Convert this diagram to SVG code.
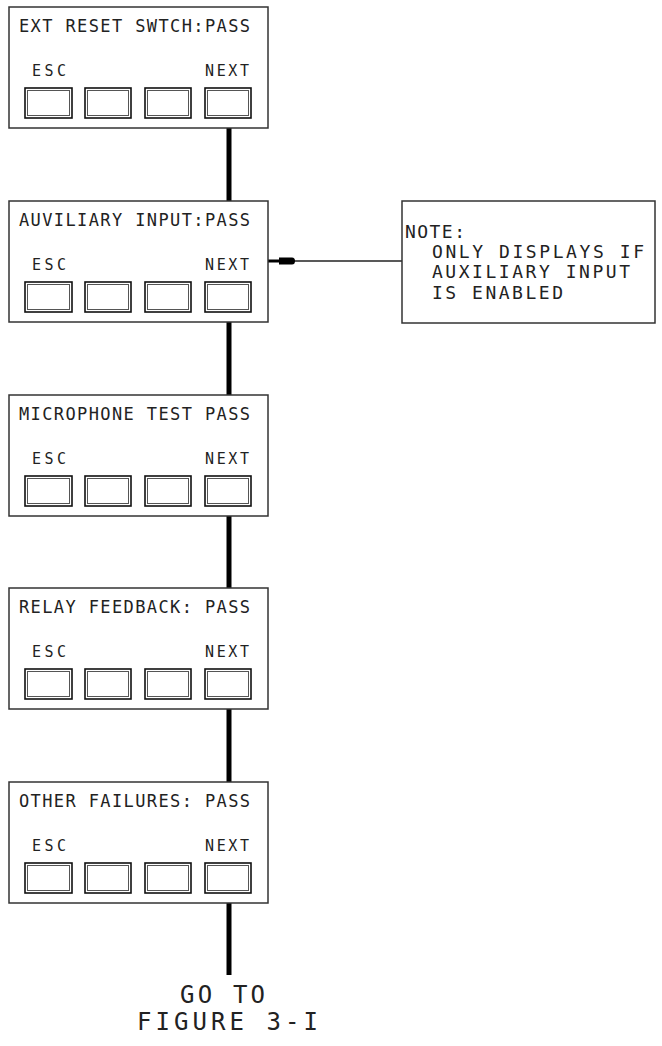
<svg xmlns="http://www.w3.org/2000/svg" width="662" height="1046" viewBox="0 0 662 1046">
<style>
.box{fill:#fff;stroke:#333;stroke-width:1.5}
.bo{fill:none;stroke:#111;stroke-width:1.6}
.bi{fill:none;stroke:#555;stroke-width:1}
.t{font-family:"DejaVu Sans Mono","Liberation Mono",monospace;fill:#222}
.ti{font-size:17px}
.lb{font-size:15px}
.nt{font-size:18px}
.go{font-size:24px}
.conn{stroke:#000;stroke-width:5;fill:none}
.thin{stroke:#222;stroke-width:1.5;fill:none}
</style>
<defs>
<g id="btns">
<rect class="bo" x="25" y="81" width="47" height="30"/><rect class="bi" x="27.5" y="83.5" width="42" height="25"/>
<rect class="bo" x="85" y="81" width="46" height="30"/><rect class="bi" x="87.5" y="83.5" width="41" height="25"/>
<rect class="bo" x="145" y="81" width="46" height="30"/><rect class="bi" x="147.5" y="83.5" width="41" height="25"/>
<rect class="bo" x="205" y="81" width="46" height="30"/><rect class="bi" x="207.5" y="83.5" width="41" height="25"/>
</g>
</defs>
<g id="connectors">
<line class="conn" x1="229" y1="128" x2="229" y2="201"/>
<line class="conn" x1="229" y1="322" x2="229" y2="395"/>
<line class="conn" x1="229" y1="516" x2="229" y2="588"/>
<line class="conn" x1="229" y1="709" x2="229" y2="782"/>
<line class="conn" x1="229" y1="903" x2="229" y2="975"/>
<line class="thin" x1="278" y1="261" x2="402" y2="261"/>
<line stroke="#000" stroke-width="3" x1="268" y1="261" x2="280" y2="261"/>
<path d="M279,257.5 L292,257.5 Q295,257.5 295,261 Q295,264.5 292,264.5 L279,264.5 Z" fill="#000"/>
</g>
<g id="node1" transform="translate(0,7)">
<rect class="box" x="9" y="0" width="259" height="121"/>
<text class="t ti" x="19" y="25" textLength="231" lengthAdjust="spacing">EXT RESET SWTCH:PASS</text>
<text class="t lb" x="32" y="69" textLength="34" lengthAdjust="spacing">ESC</text>
<text class="t lb" x="205" y="69" textLength="44" lengthAdjust="spacing">NEXT</text>
<use href="#btns"/>
</g>
<g id="node2" transform="translate(0,201)">
<rect class="box" x="9" y="0" width="259" height="121"/>
<text class="t ti" x="19" y="25" textLength="231" lengthAdjust="spacing">AUVILIARY INPUT:PASS</text>
<text class="t lb" x="32" y="69" textLength="34" lengthAdjust="spacing">ESC</text>
<text class="t lb" x="205" y="69" textLength="44" lengthAdjust="spacing">NEXT</text>
<use href="#btns"/>
</g>
<g id="node3" transform="translate(0,395)">
<rect class="box" x="9" y="0" width="259" height="121"/>
<text class="t ti" x="19" y="25" textLength="231" lengthAdjust="spacing">MICROPHONE TEST PASS</text>
<text class="t lb" x="32" y="69" textLength="34" lengthAdjust="spacing">ESC</text>
<text class="t lb" x="205" y="69" textLength="44" lengthAdjust="spacing">NEXT</text>
<use href="#btns"/>
</g>
<g id="node4" transform="translate(0,588)">
<rect class="box" x="9" y="0" width="259" height="121"/>
<text class="t ti" x="19" y="25" textLength="231" lengthAdjust="spacing">RELAY FEEDBACK: PASS</text>
<text class="t lb" x="32" y="69" textLength="34" lengthAdjust="spacing">ESC</text>
<text class="t lb" x="205" y="69" textLength="44" lengthAdjust="spacing">NEXT</text>
<use href="#btns"/>
</g>
<g id="node5" transform="translate(0,782)">
<rect class="box" x="9" y="0" width="259" height="121"/>
<text class="t ti" x="19" y="25" textLength="231" lengthAdjust="spacing">OTHER FAILURES: PASS</text>
<text class="t lb" x="32" y="69" textLength="34" lengthAdjust="spacing">ESC</text>
<text class="t lb" x="205" y="69" textLength="44" lengthAdjust="spacing">NEXT</text>
<use href="#btns"/>
</g>
<g id="note">
<rect class="box" x="402" y="201" width="253" height="122"/>
<text class="t nt" x="405" y="238" textLength="60" lengthAdjust="spacing">NOTE:</text>
<text class="t nt" x="432" y="258" textLength="212" lengthAdjust="spacing">ONLY DISPLAYS IF</text>
<text class="t nt" x="432" y="278" textLength="198" lengthAdjust="spacing">AUXILIARY INPUT</text>
<text class="t nt" x="432" y="299" textLength="131" lengthAdjust="spacing">IS ENABLED</text>
</g>
<g id="goto">
<text class="t go" x="180" y="1003" textLength="85" lengthAdjust="spacing">GO TO</text>
<text class="t go" x="137" y="1030" textLength="181" lengthAdjust="spacing">FIGURE 3-I</text>
</g>
</svg>
